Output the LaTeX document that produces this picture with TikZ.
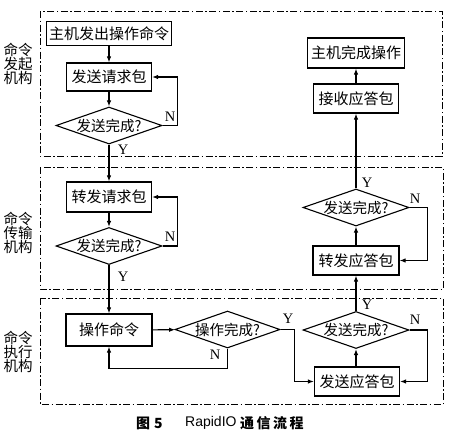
\documentclass[tikz,border=0pt]{standalone}
\usepackage{fontspec}
\setmainfont{Liberation Serif}
\newfontfamily\cjk{Noto Sans CJK SC}
\newfontfamily\capsans{Liberation Sans}
\usetikzlibrary{shapes.geometric,arrows.meta}
\newcommand\dtxt[1]{\makebox[0pt]{#1}}
\begin{document}
\begin{tikzpicture}[x=1pt,y=-1pt,
  box/.style={draw, line width=1.2pt, inner sep=0pt, font=\cjk\fontsize{15}{17}\selectfont},
  diam/.style={draw, diamond, line width=1.1pt, inner sep=0pt, minimum width=106pt, minimum height=37pt, font=\cjk\fontsize{14.5}{16}\selectfont},
  frame/.style={line width=1pt, dash pattern=on 7pt off 2.5pt on 1.5pt off 2.5pt},
  arr/.style={line width=1.1pt, -{Latex[length=6pt,width=4.5pt]}},
  yn/.style={font=\fontsize{14.5}{16}\selectfont, inner sep=0pt},
  side/.style={font=\cjk\fontsize{14.5}{14}\selectfont, align=center, inner sep=0pt}
]
\useasboundingbox (0,0) rectangle (450,437);
% frames
\draw[frame] (40,11) rectangle (442,156);
\draw[frame] (40,167) rectangle (443,289);
\draw[frame] (40,298) rectangle (443,404);
% side labels
\node[side] (s1) at (18,64) {命令\\发起\\机构};
\node[side] (s2) at (18,233) {命令\\传输\\机构};
\node[side] (s3) at (18,352) {命令\\执行\\机构};
% left column
\node[box, minimum width=125pt, minimum height=24pt] (n1) at (109,33.5) {主机发出操作命令};
\node[box, minimum width=85pt, minimum height=28pt] (n2) at (109,77) {发送请求包};
\node[diam] (d1) at (109,125.5) {\dtxt{发送完成?}};
\node[box, minimum width=85pt, minimum height=30pt] (n3) at (109,197) {转发请求包};
\node[diam] (d2) at (109,246) {\dtxt{发送完成?}};
\node[box, minimum width=86pt, minimum height=32pt] (n4) at (109,330) {操作命令};
\node[diam, minimum width=105pt] (d3) at (227.5,329.5) {\dtxt{操作完成?}};
% right column
\node[box, minimum width=85pt, minimum height=29pt] (n5) at (357,381.5) {发送应答包};
\node[diam] (d4) at (356,330) {\dtxt{发送完成?}};
\node[box, minimum width=86pt, minimum height=29pt] (n6) at (356,260.5) {转发应答包};
\node[diam] (d5) at (356,207.5) {\dtxt{发送完成?}};
\node[box, minimum width=85pt, minimum height=29pt] (n7) at (356,98.5) {接收应答包};
\node[box, minimum width=97pt, minimum height=30pt] (n8) at (356,53) {主机完成操作};
% connectors
\draw[arr] (n1) -- (n2);
\draw[arr] (n2) -- (d1);
\draw[arr] (d1.east) -- ++(15,0) |- (n2.east);
\draw[arr] (d1) -- (n3);
\draw[arr] (n3) -- (d2);
\draw[arr] (d2.east) -- ++(15,0) |- (n3.east);
\draw[arr] (d2) -- (n4);
\draw[arr] (n4) -- (d3);
\draw[arr] (d3.south) -- ++(0,20) -| (n4.south);
\draw[arr] (d3.east) -- ++(14,0) |- (n5.west);
\draw[arr] (n5.north -| d4) -- (d4.south);
\draw[arr] (d4.east) -- ++(18,0) |- (n5.east);
\draw[arr] (d4) -- (n6);
\draw[arr] (n6) -- (d5);
\draw[arr] (d5.east) -- ++(18,0) |- (n6.east);
\draw[arr] (d5) -- (n7);
\draw[arr] (n7) -- (n8);
% Y / N labels
\node[yn] (l1) at (170,117) {N};
\node[yn] (l2) at (123,150) {Y};
\node[yn] (l3) at (170,237) {N};
\node[yn] (l4) at (123,277) {Y};
\node[yn] (l5) at (215,355) {N};
\node[yn] (l6) at (288,319) {Y};
\node[yn] (l7) at (367,305) {Y};
\node[yn] (l8) at (415,320) {N};
\node[yn] (l9) at (367,183) {Y};
\node[yn] (l10) at (415,199) {N};
% caption
\node[anchor=west, inner sep=0pt, font=\cjk\bfseries\fontsize{14}{16}\selectfont] (c1) at (136,423) {图\hspace{4pt}5};
\node[anchor=west, inner sep=0pt, font=\capsans\fontsize{14}{16}\selectfont] (c2) at (185,423) {RapidIO};
\node[anchor=west, inner sep=0pt, font=\cjk\bfseries\fontsize{14}{16}\selectfont] (c3) at (240,423) {通\hspace{2.5pt}信\hspace{2.5pt}流\hspace{2.5pt}程};
\end{tikzpicture}
\end{document}
